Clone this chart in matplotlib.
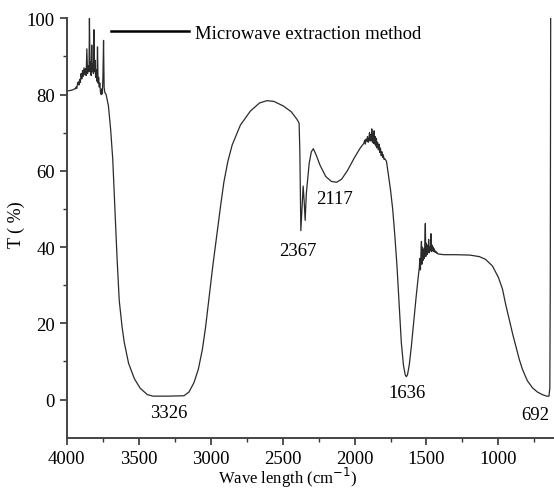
import numpy as np
import matplotlib
matplotlib.use('Agg')
import matplotlib.pyplot as plt

plt.rcParams['font.family'] = 'Liberation Serif'

# wavenumber (cm-1) and transmittance (%)
wave_head = [4000, 3985, 3960, 3945]
trans_head = [81.0, 81.0, 81.2, 81.5]

wave_noise1 = [3940, 3935, 3930, 3925, 3920, 3915, 3910, 3905, 3900, 3895,
               3890, 3885, 3880, 3875, 3870, 3865, 3860, 3855, 3850, 3845,
               3842, 3838, 3834, 3830, 3826, 3822, 3818, 3814, 3811, 3807,
               3803, 3799, 3795, 3790, 3786, 3782, 3778, 3774, 3770, 3765,
               3760, 3756, 3752, 3748, 3744, 3740, 3735, 3730]
trans_noise1 = [81.5, 82.0, 81.6, 82.8, 83.3, 82.5, 84.0, 83.2, 85.5, 84.1,
                86.3, 84.8, 87.0, 85.2, 86.8, 85.0, 92.0, 85.5, 87.5, 86.0,
                100.0, 86.5, 88.5, 85.0, 93.0, 86.0, 88.0, 85.5, 97.0, 86.0,
                89.0, 84.5, 86.5, 83.5, 92.5, 83.0, 84.5, 82.0, 83.0, 80.5,
                80.0, 81.5, 80.2, 85.0, 94.2, 82.0, 80.5, 80.3]

wave_oh = [3726, 3710, 3695, 3680, 3665, 3650, 3635, 3615, 3600, 3570,
           3530, 3490, 3440, 3400, 3300, 3185, 3150, 3115, 3085, 3057,
           3035, 3012, 2985, 2954, 2930, 2908, 2880, 2850, 2793, 2723,
           2660, 2608, 2560, 2495, 2440, 2400, 2385, 2380, 2376, 2373,
           2365, 2357, 2350, 2343, 2335, 2315, 2300, 2286, 2265, 2240,
           2200, 2160, 2124, 2090, 2050, 2000, 1960, 1940]
trans_oh = [80.0, 77.0, 71.0, 63.0, 50.0, 37.0, 26.0, 19.0, 15.0, 9.5,
            5.5, 3.0, 1.3, 0.9, 0.9, 1.0, 2.0, 4.5, 8.0, 13.2,
            19.0, 26.4, 35.0, 44.0, 51.0, 57.0, 62.5, 66.8, 72.0, 75.7,
            77.8, 78.4, 78.2, 77.0, 75.5, 73.5, 72.5, 65.0, 52.0, 44.3,
            50.0, 56.0, 52.0, 47.0, 54.0, 62.0, 65.0, 65.8, 64.0, 61.5,
            58.5, 57.2, 57.0, 57.8, 60.0, 63.5, 66.0, 67.0]

wave_noise2 = [1935, 1930, 1925, 1920, 1915, 1910, 1905, 1900, 1896, 1892,
               1888, 1884, 1880, 1876, 1872, 1868, 1864, 1860, 1856, 1852,
               1848, 1844, 1840, 1835, 1830, 1825, 1820, 1815, 1810, 1805,
               1800, 1795, 1790]
trans_noise2 = [67.2, 68.0, 67.0, 68.3, 67.8, 69.0, 67.5, 68.5, 70.0, 67.8,
                69.5, 68.0, 71.0, 67.5, 69.8, 67.2, 70.5, 67.0, 69.0, 66.5,
                68.5, 66.0, 67.5, 65.5, 67.0, 64.8, 66.0, 64.0, 65.0, 63.5,
                64.2, 63.0, 63.2]

wave_co = [1778, 1765, 1750, 1735, 1720, 1705, 1690, 1675, 1660, 1648,
           1640, 1632, 1620, 1605, 1590, 1571, 1555]
trans_co = [62.5, 59.0, 55.0, 50.0, 43.0, 35.0, 25.0, 15.0, 9.0, 6.5,
            6.0, 6.5, 9.0, 14.0, 20.0, 27.3, 33.0]

wave_noise3 = [1550, 1546, 1542, 1538, 1535, 1532, 1528, 1524, 1520, 1516,
               1512, 1508, 1505, 1501, 1497, 1493, 1489, 1485, 1481, 1477,
               1473, 1469, 1465, 1461, 1457, 1453, 1449, 1445, 1440, 1435,
               1430, 1425]
trans_noise3 = [34.5, 37.0, 34.0, 39.0, 41.5, 35.5, 40.0, 36.5, 39.5, 37.0,
                40.5, 46.2, 37.5, 41.0, 38.0, 40.5, 38.5, 42.0, 38.5, 40.0,
                39.0, 43.5, 38.8, 40.5, 39.0, 40.0, 38.8, 39.5, 38.6, 38.9,
                38.4, 38.5]

wave_tail = [1420, 1380, 1300, 1200, 1133, 1090, 1041, 1000, 972, 950,
             925, 900, 879, 855, 833, 800, 764, 730, 695, 665,
             649, 643, 640, 637]
trans_tail = [38.2, 38.0, 38.0, 37.9, 37.5, 36.8, 35.0, 32.0, 29.0, 25.0,
              21.0, 17.0, 14.0, 10.5, 7.9, 5.0, 3.1, 2.0, 1.3, 0.9,
              0.9, 3.0, 30.0, 101.0]

peak_labels = ['3326', '2367', '2117', '1636', '692']
peak_x = [3290, 2391, 2136, 1638, 741]
peak_y = [-3.4, 39.0, 52.8, 1.8, -4.0]

wave = np.concatenate([wave_head, wave_noise1, wave_oh, wave_noise2,
                       wave_co, wave_noise3, wave_tail])
trans = np.concatenate([trans_head, trans_noise1, trans_oh, trans_noise2,
                        trans_co, trans_noise3, trans_tail])

fig = plt.figure(figsize=(5.54, 4.89), dpi=100)
ax = fig.add_axes([66.7/554, 50.3/489, 487.3/554, 419.4/489])

ax.plot(wave, trans, color='#2a2a2a', lw=0.9, label='Microwave extraction method')

for lab, x, y in zip(peak_labels, peak_x, peak_y):
    ax.text(x, y, lab, ha='center', va='center', fontsize=13.5)

ax.set_xlim(4000, 614)
ax.set_ylim(-10, 100)
ax.set_xticks([4000, 3500, 3000, 2500, 2000, 1500, 1000])
ax.set_xticks(np.arange(3750, 620, -500), minor=True)
ax.set_yticks([0, 20, 40, 60, 80, 100])
ax.set_yticks([10, 30, 50, 70, 90], minor=True)
ax.tick_params(which='major', direction='out', length=5, width=1.2, labelsize=13.5, colors='#333333', labelcolor='black')
ax.tick_params(which='minor', direction='out', length=3, width=1.0, colors='#333333')
for s in ['top', 'right']:
    ax.spines[s].set_visible(False)
for s in ['left', 'bottom']:
    ax.spines[s].set_linewidth(1.4)
    ax.spines[s].set_color('#444444')

ax.set_xlabel('Wave length (cm$^{-1}$)', fontsize=12)
ax.xaxis.set_label_coords(0.454, -0.066)
ax.set_ylabel('T ( %)', fontsize=13)
ax.yaxis.set_label_coords(-0.086, 0.51)

leg = ax.legend(loc='upper left', bbox_to_anchor=(0.09, 0.985), frameon=False,
                handlelength=4.2, handletextpad=0.3, borderpad=0, borderaxespad=0,
                fontsize=13.5)
leg.get_lines()[0].set_linewidth(1.8)
leg.get_lines()[0].set_color('black')

fig.savefig('out.png', dpi=100)
